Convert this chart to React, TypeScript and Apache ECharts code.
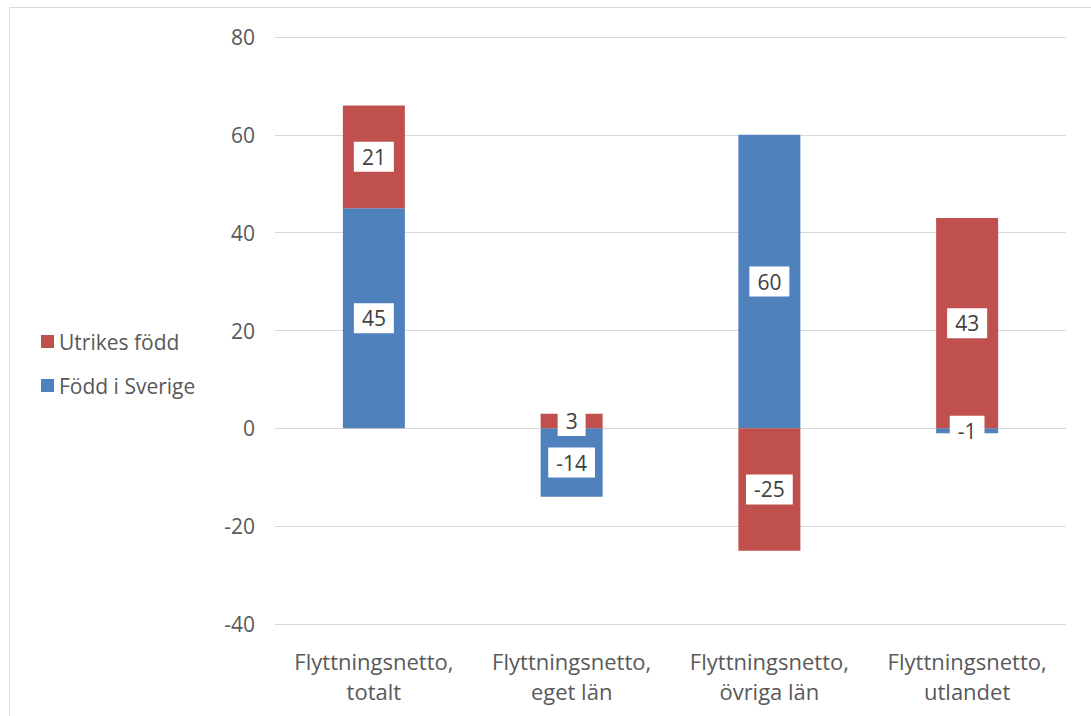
import React, { useEffect, useRef } from "react";
import * as echarts from "echarts";

const categories = [
  "Flyttningsnetto,\ntotalt",
  "Flyttningsnetto,\neget län",
  "Flyttningsnetto,\növriga län",
  "Flyttningsnetto,\nutlandet",
];
const foddISverige = [45, -14, 60, -1];
const utrikesFodd = [21, 3, -25, 43];

const FONT = "'Open Sans', 'Noto Sans', sans-serif";
const TEXT = "#595959";
const FS = 21;

export default function App() {
  const ref = useRef<HTMLDivElement>(null);
  useEffect(() => {
    if (!ref.current) return;
    const chart = echarts.init(ref.current, undefined, { renderer: "svg" });
    const label = {
      show: true,
      position: "inside",
      color: "#404040",
      fontFamily: FONT,
      fontSize: FS,
      backgroundColor: "#ffffff",
      padding: [5, 8, 4, 8],
    };
    chart.setOption({
      animation: false,
      backgroundColor: "#ffffff",
      textStyle: { fontFamily: FONT },
      graphic: [
        {
          type: "rect",
          shape: { x: 9.5, y: 7.5, width: 1090, height: 720 },
          style: { fill: "none", stroke: "#d9d9d9", lineWidth: 1 },
          silent: true,
        },
      ],
      grid: { left: 275, right: 25, top: 37, bottom: 92, containLabel: false },
      legend: {
        orient: "vertical",
        left: 36,
        top: 326,
        itemWidth: 13,
        itemHeight: 13,
        itemGap: 23,
        icon: "rect",
        data: ["Utrikes född", "Född i Sverige"],
        textStyle: { color: TEXT, fontSize: FS, fontFamily: FONT },
      },
      xAxis: {
        type: "category",
        data: categories,
        axisTick: { show: false },
        axisLine: { lineStyle: { color: "#d9d9d9" } },
        axisLabel: {
          color: TEXT,
          fontSize: 22,
          fontFamily: FONT,
          lineHeight: 30,
          margin: 22,
          interval: 0,
        },
      },
      yAxis: {
        type: "value",
        min: -40,
        max: 80,
        interval: 20,
        axisLine: { show: false },
        axisTick: { show: false },
        splitLine: { lineStyle: { color: "#d9d9d9" } },
        axisLabel: { color: TEXT, fontSize: FS, fontFamily: FONT, margin: 20 },
      },
      series: [
        {
          name: "Född i Sverige",
          type: "bar",
          stack: "s",
          barWidth: 62,
          data: foddISverige,
          itemStyle: { color: "#4F81BD" },
          label,
        },
        {
          name: "Utrikes född",
          type: "bar",
          stack: "s",
          barWidth: 62,
          data: utrikesFodd,
          itemStyle: { color: "#C0504D" },
          label,
        },
      ],
    });
    return () => chart.dispose();
  }, []);
  return (
    <div
      ref={ref}
      style={{ position: "absolute", left: 0, top: 0, width: 1091, height: 716 }}
    />
  );
}
